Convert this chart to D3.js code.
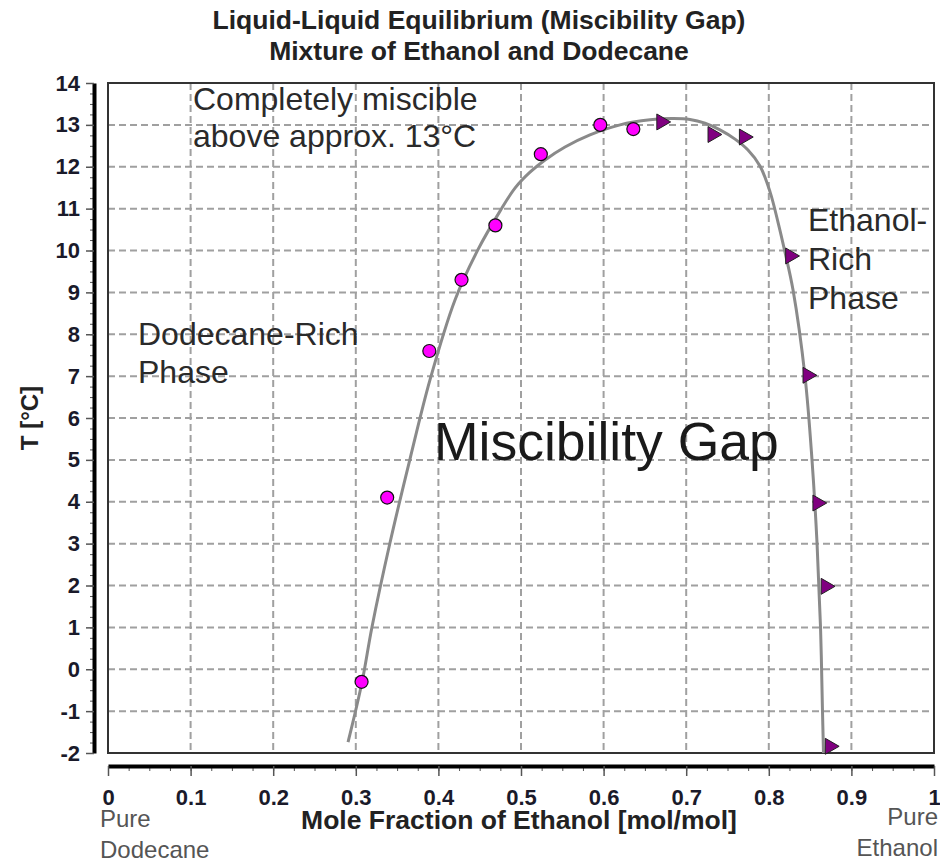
<!DOCTYPE html>
<html>
<head>
<meta charset="utf-8">
<script src="https://cdn.jsdelivr.net/npm/d3@7"></script>
<style>
  body { margin: 0; background: #fff; }
  svg { font-family: "Liberation Sans", Arial, sans-serif; }
</style>
</head>
<body>
<div id="chart"></div>
<script>
// Data

// Dodecane-rich branch (magenta dots)
const dodecanePoints = [
  [0.307, -0.3], [0.338, 4.1], [0.389, 7.6], [0.428, 9.3],
  [0.469, 10.6], [0.524, 12.3], [0.596, 13.0], [0.636, 12.9]
];
// Ethanol-rich branch (purple triangles)
const ethanolPoints = [
  [0.670, 13.07], [0.732, 12.77], [0.770, 12.71], [0.826, 9.87],
  [0.847, 7.02], [0.859, 3.97], [0.869, 1.98], [0.874, -1.84]
];
// fitted curve
const curvePoints = [
  [0.2906, -1.74], [0.3075, -0.31], [0.3196, 1.01], [0.3414, 3.02], [0.3656, 5.02],
  [0.3898, 6.91], [0.4201, 8.82], [0.4479, 10.02], [0.4746, 10.94], [0.4927, 11.49],
  [0.5109, 11.87], [0.5291, 12.16], [0.5533, 12.47], [0.5835, 12.76], [0.6199, 13.0],
  [0.6562, 13.12], [0.6828, 13.15], [0.7046, 13.13], [0.7228, 13.04], [0.7409, 12.88],
  [0.7591, 12.66], [0.7748, 12.40], [0.7893, 12.02], [0.8015, 11.40], [0.8111, 10.68],
  [0.8196, 9.96], [0.8293, 9.06], [0.8438, 7.0], [0.8523, 5.0], [0.8584, 3.01],
  [0.8626, 1.01], [0.865, -1.0], [0.8662, -2.0]
];

const xTicks = [0, 0.1, 0.2, 0.3, 0.4, 0.5, 0.6, 0.7, 0.8, 0.9, 1];
const yTicks = [-2, -1, 0, 1, 2, 3, 4, 5, 6, 7, 8, 9, 10, 11, 12, 13, 14];
const xMinorTicks = d3.range(0, 41).map((i) => i * 0.025);
const yMinorTicks = d3.range(0, 65).map((i) => -2 + i * 0.25);

const titleLines = ["Liquid-Liquid Equilibrium (Miscibility Gap)", "Mixture of Ethanol and Dodecane"];

// Layout

const width = 940;
const height = 862;
const plot = { left: 108, right: 934, top: 83, bottom: 753 };

const svg = d3
  .select("#chart")
  .append("svg")
  .attr("width", width)
  .attr("height", height);

const xScale = d3.scaleLinear().domain([0, 1]).range([plot.left, plot.right]);
const yScale = d3.scaleLinear().domain([-2, 14]).range([plot.bottom, plot.top]);

// Title

svg
  .selectAll(".title")
  .data(titleLines)
  .enter()
  .append("text")
  .attr("x", 479)
  .attr("y", (d, i) => 29 + i * 31)
  .attr("text-anchor", "middle")
  .style("font-size", "26.5px")
  .style("font-weight", "bold")
  .style("fill", "#222")
  .text((d) => d);

// Grid

const grid = svg.append("g").style("stroke", "#a0a0a0").style("stroke-width", 2).style("stroke-dasharray", "7,4");

grid
  .selectAll(".vgrid")
  .data(xTicks.slice(1, -1))
  .enter()
  .append("line")
  .attr("x1", (d) => xScale(d))
  .attr("x2", (d) => xScale(d))
  .attr("y1", plot.top)
  .attr("y2", plot.bottom);

grid
  .selectAll(".hgrid")
  .data(yTicks.slice(1, -1))
  .enter()
  .append("line")
  .attr("x1", plot.left)
  .attr("x2", plot.right)
  .attr("y1", (d) => yScale(d))
  .attr("y2", (d) => yScale(d));

svg
  .append("rect")
  .attr("x", plot.left)
  .attr("y", plot.top)
  .attr("width", plot.right - plot.left)
  .attr("height", plot.bottom - plot.top)
  .style("fill", "none")
  .style("stroke", "#333")
  .style("stroke-width", 2);

// Annotations

function addText(lines, x, y0, step, size, color) {
  svg
    .append("g")
    .selectAll("text")
    .data(lines)
    .enter()
    .append("text")
    .attr("x", x)
    .attr("y", (d, i) => y0 + i * step)
    .style("font-size", size + "px")
    .style("fill", color)
    .text((d) => d);
}

addText(["Completely miscible", "above approx. 13°C"], 193, 110, 37, 32, "#2a2a2a");
addText(["Dodecane-Rich", "Phase"], 138, 345, 38, 32, "#2a2a2a");
addText(["Ethanol-", "Rich", "Phase"], 808, 231, 39, 32, "#2a2a2a");
addText(["Miscibility Gap"], 434, 460, 0, 53.5, "#1a1a1a");

// Curve

svg
  .append("path")
  .datum(curvePoints)
  .attr(
    "d",
    d3
      .line()
      .x((d) => xScale(d[0]))
      .y((d) => yScale(d[1]))
      .curve(d3.curveCatmullRom)
  )
  .style("fill", "none")
  .style("stroke", "#8a8a8a")
  .style("stroke-width", 3);

// Markers

svg
  .selectAll(".dot")
  .data(dodecanePoints)
  .enter()
  .append("circle")
  .attr("cx", (d) => xScale(d[0]))
  .attr("cy", (d) => yScale(d[1]))
  .attr("r", 6.5)
  .style("fill", "#ff00ff")
  .style("stroke", "#111")
  .style("stroke-width", 1.2);

const triangle = d3.symbol().type(d3.symbolTriangle).size(110);

svg
  .selectAll(".tri")
  .data(ethanolPoints)
  .enter()
  .append("path")
  .attr("d", triangle)
  .attr("transform", (d) => `translate(${xScale(d[0])},${yScale(d[1])}) rotate(90)`)
  .style("fill", "#800080")
  .style("stroke", "#222")
  .style("stroke-width", 1);

// Axes

const plainFormat = (d) => String(d);

const yAxisG = svg.append("g").attr("transform", "translate(94,0)");

yAxisG
  .append("g")
  .call(d3.axisLeft(yScale).tickValues(yMinorTicks).tickFormat("").tickSize(4).tickSizeOuter(0))
  .call((g) => g.select(".domain").remove())
  .selectAll("line")
  .style("stroke", "#555");

yAxisG
  .append("g")
  .call(d3.axisLeft(yScale).tickValues(yTicks).tickFormat(plainFormat).tickSize(8).tickSizeOuter(0).tickPadding(6))
  .call((g) => g.select(".domain").style("stroke", "#000").style("stroke-width", 4))
  .call((g) => g.selectAll(".tick line").style("stroke", "#555").style("stroke-width", 1.5))
  .selectAll("text")
  .style("font-family", "'Liberation Sans', Arial, sans-serif")
  .style("font-size", "22px")
  .style("font-weight", "bold")
  .style("fill", "#1a1a2a");

const xAxisG = svg.append("g").attr("transform", "translate(0,766)");

xAxisG
  .append("g")
  .call(d3.axisBottom(xScale).tickValues(xMinorTicks).tickFormat("").tickSize(5).tickSizeOuter(0))
  .call((g) => g.select(".domain").remove())
  .selectAll("line")
  .style("stroke", "#555");

xAxisG
  .append("g")
  .call(d3.axisBottom(xScale).tickValues(xTicks).tickFormat(plainFormat).tickSize(10).tickSizeOuter(0).tickPadding(13))
  .call((g) => g.select(".domain").style("stroke", "#000").style("stroke-width", 4))
  .call((g) => g.selectAll(".tick line").style("stroke", "#555").style("stroke-width", 1.5))
  .selectAll("text")
  .style("font-family", "'Liberation Sans', Arial, sans-serif")
  .style("font-size", "22px")
  .style("font-weight", "bold")
  .style("fill", "#1a1a2a");

// Axis titles

svg
  .append("text")
  .attr("x", 519)
  .attr("y", 829)
  .attr("text-anchor", "middle")
  .style("font-size", "26.5px")
  .style("font-weight", "bold")
  .style("fill", "#222")
  .text("Mole Fraction of Ethanol [mol/mol]");

svg
  .append("text")
  .attr("transform", "translate(38,418) rotate(-90)")
  .attr("text-anchor", "middle")
  .style("font-size", "24px")
  .style("font-weight", "bold")
  .style("fill", "#222")
  .text("T [°C]");

// Ends of the composition axis

svg
  .append("g")
  .selectAll("text")
  .data(["Pure", "Dodecane"])
  .enter()
  .append("text")
  .attr("x", 100)
  .attr("y", (d, i) => 827 + i * 31)
  .style("font-size", "24px")
  .style("fill", "#555")
  .text((d) => d);

svg
  .append("g")
  .selectAll("text")
  .data(["Pure", "Ethanol"])
  .enter()
  .append("text")
  .attr("x", 938)
  .attr("y", (d, i) => 825 + i * 31)
  .attr("text-anchor", "end")
  .style("font-size", "24px")
  .style("fill", "#555")
  .text((d) => d);
</script>
</body>
</html>
